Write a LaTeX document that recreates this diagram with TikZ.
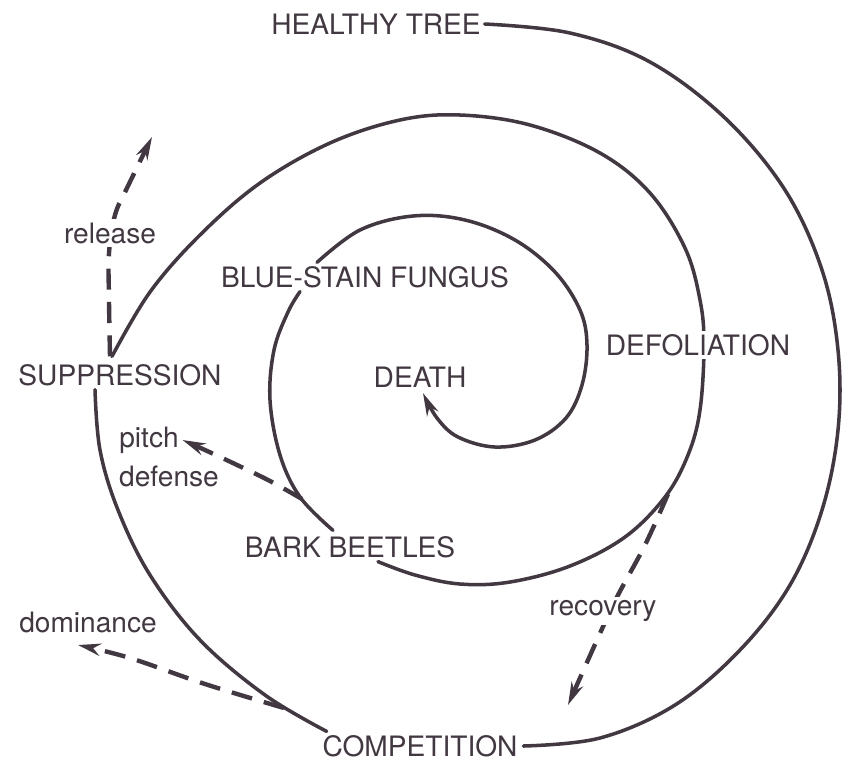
\documentclass[tikz,border=0pt]{standalone}
\usepackage{fontspec}
\setmainfont{TeX Gyre Heros}
\usetikzlibrary{arrows.meta,calc}
\definecolor{ink}{RGB}{66,56,66}
\begin{document}
\begin{tikzpicture}[x=0.02cm,y=-0.02cm,
  lbl/.style={text=ink, font=\fontsize{16}{19}\selectfont, inner sep=2pt},
  wlbl/.style={lbl, fill=white},
  spiral/.style={draw=ink, line width=2pt, line cap=round},
  dasharrow/.style={draw=ink, line width=2.5pt, dash pattern=on 12pt off 7pt, -{Stealth[length=13pt,width=7pt]}},
  tiparrow/.style={-{Stealth[length=13pt,width=7pt]}}
]
\useasboundingbox[fill=white] (0,0) rectangle (852,769);

% stage nodes
\node[lbl] (ht) at (376,24) {HEALTHY TREE};
\node[lbl] (comp) at (420,746) {COMPETITION};
\node[lbl] (supp) at (120,375) {SUPPRESSION};
\node[lbl] (bs) at (365,277) {BLUE-STAIN FUNGUS};
\node[lbl] (bb) at (350,547) {BARK BEETLES};
\node[lbl] (death) at (420,377) {DEATH};
\node[lbl] (pitch) at (149,440) {pitch};
\node[lbl] (defense) at (169,476) {defense};
\node[lbl] (dom) at (88,622) {dominance};

% connector end points
\coordinate (s1end) at ($(comp.east)+(2,0)$);
\coordinate (s2start) at ($(comp.north west)+(8,0)$);
\coordinate (s2end) at ($(supp.south)+(-25,0)$);
\coordinate (s3start) at ($(supp.north)+(-8,-4)$);
\coordinate (s3end) at ($(bb.south)+(28,0)$);
\coordinate (s4start) at ($(bb.north)+(-17,-2)$);
\coordinate (s4end) at ($(bs.south)+(-65,0)$);
\coordinate (s5start) at ($(bs.north)+(-48,0)$);
\coordinate (s5end) at ($(death.south)+(3,2)$);
\coordinate (rl0) at ($(supp.north)+(-10,-4)$);
\coordinate (rl1) at (152,137);
\coordinate (pd0) at (302,499);
\coordinate (dm0) at (284,708);
\coordinate (dm1) at (78,645);
\coordinate (rc0) at (668,494);
\coordinate (rc1) at (568,705);

% spiral
\draw[spiral] plot[smooth, tension=0.6] coordinates {(ht.east) (570,33) (650,62) (725,118) (785,190) (822,270) (838,350) (838,430) (822,510) (790,585) (740,650) (675,705) (600,738) (s1end)};
\draw[spiral] plot[smooth, tension=0.6] coordinates {(s2start) (265,695) (200,640) (150,575) (118,510) (100,450) (s2end)};
\draw[spiral] plot[smooth, tension=0.6] coordinates {(s3start) (150,292) (200,235) (260,183) (330,143) (400,120) (460,115) (530,125) (600,153) (650,193) (685,248) (700,300) (704,345) (700,410) (688,455) (665,497) (625,537) (570,566) (510,582) (460,584) (415,575) (s3end)};
\draw[spiral] plot[smooth, tension=0.6] coordinates {(s4start) (300,497) (280,455) (270,400) (274,350) (288,312) (s4end)};
\draw[spiral, tiparrow] plot[smooth, tension=0.6] coordinates {(s5start) (360,230) (413,216) (465,220) (515,240) (555,272) (580,310) (587,345) (582,385) (566,418) (535,440) (495,447) (458,437) (437,418) (s5end)};

% dashed side arrows
\draw[dasharrow] plot[smooth, tension=0.6] coordinates {(rl0) (109,300) (109,253) (115,215) (128,186) (rl1)};
\draw[dasharrow] plot[smooth, tension=0.6] coordinates {(pd0) (270,481) (235,464) (205,450) (pitch.east)};
\draw[dasharrow] plot[smooth, tension=0.6] coordinates {(dm0) (205,684) (130,658) (dm1)};
\draw[dasharrow] plot[smooth, tension=0.6] coordinates {(rc0) (645,545) (617,597) (597,640) (rc1)};

% labels lying over lines
\node[wlbl] (defol) at (698,345) {DEFOLIATION};
\node[wlbl] (rel) at (110,233) {release};
\node[wlbl] (rec) at (603,611) {recovery};
\end{tikzpicture}
\end{document}
